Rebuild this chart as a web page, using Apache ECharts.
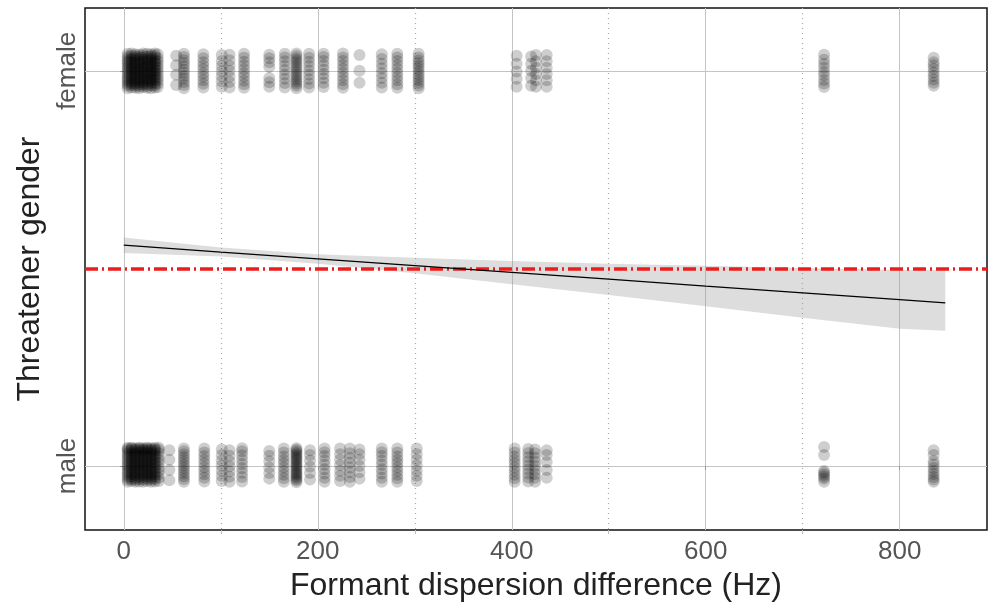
<!DOCTYPE html>
<html>
<head>
<meta charset="utf-8">
<script src="https://cdn.jsdelivr.net/npm/echarts@6/dist/echarts.min.js"></script>
<style>
  html, body { margin: 0; padding: 0; background: #fff; }
  #chart { width: 988px; height: 604px; }
</style>
</head>
<body>
<div id="chart"></div>
<script>
// Axis ticks and labels
const xMajorTicks = [0, 200, 400, 600, 800];
const xMinorTicks = [100, 300, 500, 700];
const yTickValues = [0, 1];
const yTickLabels = { 0: 'male', 1: 'female' };

// Observed formant dispersion differences (Hz) per threatener gender;
// each column lists the vertical jitter offsets of its trials around the 0/1 level
const femaleX = [4, 8, 12, 16, 20, 24, 28, 32, 35, 54, 62, 82, 101, 109, 124,
  150, 166, 178, 191, 206, 226, 243, 266, 282, 304, 405, 420, 425, 436, 722, 835];
const femaleJitter = [
  [-0.044, -0.038, -0.033, -0.027, -0.021, -0.016, -0.010, -0.004, 0.002, 0.007, 0.013, 0.019, 0.024, 0.030, 0.036, 0.043],
  [-0.042, -0.036, -0.031, -0.025, -0.019, -0.013, -0.008, -0.002, 0.004, 0.009, 0.015, 0.021, 0.027, 0.032, 0.038, 0.044],
  [-0.043, -0.037, -0.032, -0.026, -0.020, -0.015, -0.009, -0.003, 0.003, 0.008, 0.014, 0.020, 0.026, 0.031, 0.037, 0.042],
  [-0.044, -0.039, -0.034, -0.028, -0.022, -0.017, -0.011, -0.005, 0.001, 0.006, 0.012, 0.018, 0.023, 0.029, 0.035, 0.041],
  [-0.041, -0.035, -0.030, -0.024, -0.018, -0.012, -0.007, -0.001, 0.005, 0.010, 0.016, 0.022, 0.028, 0.033, 0.039, 0.044],
  [-0.043, -0.038, -0.032, -0.026, -0.021, -0.015, -0.009, -0.004, 0.002, 0.008, 0.013, 0.019, 0.025, 0.030, 0.036, 0.043],
  [-0.044, -0.037, -0.031, -0.025, -0.020, -0.014, -0.008, -0.003, 0.003, 0.009, 0.014, 0.020, 0.026, 0.031, 0.037, 0.042],
  [-0.042, -0.036, -0.030, -0.024, -0.018, -0.013, -0.007, -0.001, 0.004, 0.010, 0.016, 0.022, 0.027, 0.033, 0.039, 0.044],
  [-0.041, -0.032, -0.024, -0.016, -0.008, 0.000, 0.008, 0.016, 0.024, 0.032, 0.042],
  [-0.036, -0.010, 0.014, 0.038],
  [-0.044, -0.036, -0.028, -0.020, -0.013, -0.005, 0.003, 0.011, 0.019, 0.027, 0.035, 0.043],
  [-0.042, -0.033, -0.024, -0.015, -0.006, 0.004, 0.013, 0.022, 0.032, 0.042],
  [-0.040, -0.027, -0.014, -0.001, 0.012, 0.025, 0.040],
  [-0.042, -0.028, -0.015, 0.000, 0.013, 0.027, 0.041],
  [-0.043, -0.034, -0.025, -0.015, -0.006, 0.004, 0.014, 0.023, 0.033, 0.043],
  [-0.040, -0.029, -0.018, 0.010, 0.022, 0.032, 0.041],
  [-0.042, -0.031, -0.020, -0.009, 0.002, 0.013, 0.024, 0.034, 0.043],
  [-0.044, -0.038, -0.032, -0.027, -0.021, -0.015, -0.009, -0.003, 0.003, 0.009, 0.015, 0.021, 0.027, 0.032, 0.038, 0.044],
  [-0.042, -0.032, -0.021, -0.010, 0.001, 0.012, 0.023, 0.033, 0.043],
  [-0.041, -0.030, -0.019, -0.008, 0.003, 0.014, 0.025, 0.035, 0.043],
  [-0.043, -0.034, -0.024, -0.015, -0.005, 0.005, 0.015, 0.025, 0.034, 0.044],
  [-0.030, 0.000, 0.040],
  [-0.042, -0.030, -0.018, -0.006, 0.006, 0.018, 0.030, 0.042],
  [-0.043, -0.034, -0.024, -0.015, -0.005, 0.005, 0.015, 0.025, 0.034, 0.043],
  [-0.044, -0.037, -0.030, -0.023, -0.016, -0.009, -0.002, 0.005, 0.012, 0.019, 0.026, 0.034, 0.043],
  [-0.040, -0.020, -0.002, 0.018, 0.038],
  [-0.038, -0.018, 0.000, 0.018, 0.036],
  [-0.040, -0.024, -0.008, 0.008, 0.024, 0.040],
  [-0.040, -0.024, -0.008, 0.008, 0.024, 0.040],
  [-0.041, -0.032, -0.023, -0.012, -0.003, 0.008, 0.018, 0.028, 0.041],
  [-0.038, -0.030, -0.022, -0.013, -0.004, 0.005, 0.014, 0.022, 0.033]
];

const maleX = [4, 8, 12, 16, 20, 24, 28, 32, 36, 47, 62, 83, 101, 109, 122,
  150, 165, 178, 192, 207, 223, 233, 243, 266, 282, 302, 403, 417, 424, 436, 722, 835];
const maleJitter = [
  [-0.040, -0.034, -0.028, -0.022, -0.016, -0.010, -0.004, 0.002, 0.008, 0.014, 0.020, 0.026, 0.032, 0.038, 0.043, 0.046],
  [-0.038, -0.033, -0.027, -0.021, -0.015, -0.009, -0.003, 0.003, 0.009, 0.015, 0.021, 0.027, 0.033, 0.039, 0.044, 0.046],
  [-0.040, -0.035, -0.029, -0.023, -0.017, -0.011, -0.005, 0.001, 0.007, 0.013, 0.019, 0.025, 0.031, 0.037, 0.042, 0.045],
  [-0.039, -0.033, -0.027, -0.020, -0.014, -0.008, -0.002, 0.004, 0.010, 0.016, 0.022, 0.028, 0.034, 0.040, 0.044, 0.046],
  [-0.040, -0.034, -0.028, -0.022, -0.016, -0.010, -0.004, 0.002, 0.008, 0.014, 0.020, 0.026, 0.032, 0.038, 0.042, 0.045],
  [-0.038, -0.032, -0.026, -0.020, -0.014, -0.008, -0.002, 0.004, 0.010, 0.016, 0.022, 0.028, 0.034, 0.040, 0.044, 0.046],
  [-0.040, -0.034, -0.029, -0.023, -0.017, -0.011, -0.005, 0.001, 0.007, 0.013, 0.019, 0.025, 0.031, 0.037, 0.042, 0.045],
  [-0.039, -0.033, -0.027, -0.021, -0.015, -0.009, -0.003, 0.003, 0.009, 0.015, 0.021, 0.027, 0.033, 0.039, 0.043, 0.046],
  [-0.038, -0.030, -0.021, -0.012, -0.003, 0.006, 0.015, 0.024, 0.033, 0.041, 0.046],
  [-0.036, -0.010, 0.016, 0.040],
  [-0.040, -0.033, -0.026, -0.019, -0.012, -0.005, 0.002, 0.009, 0.016, 0.023, 0.030, 0.037, 0.044],
  [-0.039, -0.030, -0.021, -0.012, -0.003, 0.007, 0.016, 0.025, 0.034, 0.044],
  [-0.038, -0.025, -0.012, 0.001, 0.014, 0.028, 0.042],
  [-0.040, -0.027, -0.014, -0.001, 0.012, 0.026, 0.040],
  [-0.039, -0.028, -0.017, -0.006, 0.005, 0.016, 0.027, 0.037, 0.045],
  [-0.032, -0.018, -0.004, 0.012, 0.026, 0.038],
  [-0.040, -0.031, -0.022, -0.013, -0.004, 0.006, 0.015, 0.024, 0.034, 0.044],
  [-0.041, -0.037, -0.033, -0.029, -0.025, -0.021, -0.017, -0.013, -0.008, -0.004, 0.000, 0.004, 0.008, 0.013, 0.017, 0.021, 0.025, 0.029, 0.033, 0.037, 0.041, 0.045],
  [-0.034, -0.018, -0.002, 0.014, 0.028, 0.040],
  [-0.040, -0.030, -0.019, -0.008, 0.003, 0.014, 0.025, 0.035, 0.044],
  [-0.038, -0.025, -0.012, 0.002, 0.016, 0.030, 0.044],
  [-0.040, -0.028, -0.016, -0.004, 0.008, 0.020, 0.032, 0.044],
  [-0.032, -0.016, 0.000, 0.016, 0.030, 0.042],
  [-0.040, -0.030, -0.019, -0.008, 0.003, 0.014, 0.025, 0.035, 0.044],
  [-0.040, -0.031, -0.022, -0.013, -0.004, 0.006, 0.015, 0.024, 0.034, 0.044],
  [-0.038, -0.025, -0.012, 0.002, 0.016, 0.030, 0.044],
  [-0.040, -0.031, -0.022, -0.013, -0.004, 0.006, 0.015, 0.024, 0.034, 0.044],
  [-0.039, -0.029, -0.019, -0.009, 0.001, 0.012, 0.022, 0.033, 0.043],
  [-0.040, -0.030, -0.020, -0.010, 0.000, 0.011, 0.021, 0.032, 0.042],
  [-0.030, -0.010, 0.010, 0.028, 0.040],
  [-0.040, -0.032, -0.027, -0.022, -0.017, -0.013, 0.028, 0.048],
  [-0.040, -0.034, -0.028, -0.020, -0.013, -0.005, 0.004, 0.012, 0.028, 0.040]
];

// Fitted linear trend with its confidence band
const fitX = [0, 100, 200, 300, 400, 500, 600, 700, 800, 847];
const fitY = [0.559, 0.541, 0.524, 0.507, 0.490, 0.473, 0.455, 0.438, 0.421, 0.413];
const bandLower = [0.539, 0.530, 0.512, 0.488, 0.460, 0.433, 0.404, 0.375, 0.347, 0.342];
const bandUpper = [0.578, 0.553, 0.536, 0.527, 0.519, 0.512, 0.507, 0.501, 0.496, 0.496];

// Chance level
const chanceLevel = 0.5;

function toPoints(xs, jitter, level) {
  const pts = [];
  xs.forEach((x, i) => jitter[i].forEach(j => pts.push([x, level + j])));
  return pts;
}

const chart = echarts.init(document.getElementById('chart'), null, { renderer: 'canvas' });

const FONT = 'Liberation Sans, Arial, sans-serif';
const POINT_COLOR = 'rgba(0,0,0,0.24)';

chart.setOption({
  animation: false,
  backgroundColor: '#fff',
  grid: {
    left: 85, right: 1, top: 8, bottom: 74,
    outerBoundsMode: 'none', containLabel: false,
    show: true, borderColor: '#111', borderWidth: 1.5, backgroundColor: 'transparent'
  },
  xAxis: [
    {
      type: 'value', min: -40, max: 890,
      name: 'Formant dispersion difference (Hz)',
      nameLocation: 'middle', nameGap: 38,
      nameTextStyle: { fontFamily: FONT, fontSize: 32, color: '#222' },
      axisLine: { show: false },
      axisTick: { show: true, length: 4, lineStyle: { color: '#999' }, customValues: xMajorTicks },
      axisLabel: { fontFamily: FONT, fontSize: 26, color: '#555', margin: 9, customValues: xMajorTicks },
      splitLine: { show: true, lineStyle: { color: '#c4c4c4', width: 1 } }
    },
    {
      // minor gridlines, dotted
      type: 'value', min: -40, max: 890, position: 'bottom',
      axisLine: { show: false },
      axisTick: { show: true, length: 4, lineStyle: { color: '#bbb' }, customValues: xMinorTicks },
      axisLabel: { show: false },
      splitLine: { show: true, lineStyle: { color: '#aaa', type: [1, 4], width: 1.2 } }
    }
  ],
  yAxis: {
    type: 'value', min: -0.162, max: 1.159,
    name: 'Threatener gender',
    nameLocation: 'middle', nameGap: 39,
    nameTextStyle: { fontFamily: FONT, fontSize: 32, color: '#222' },
    axisLine: { show: false },
    axisTick: { show: true, length: 4, lineStyle: { color: '#999' }, customValues: yTickValues },
    axisLabel: {
      fontFamily: FONT, fontSize: 26, color: '#555', margin: 4, rotate: 90,
      customValues: yTickValues,
      formatter: v => yTickLabels[Math.round(v)] || ''
    },
    splitLine: { show: true, lineStyle: { color: '#c4c4c4', width: 1 } }
  },
  series: [
    {
      type: 'scatter', name: 'female', symbolSize: 12, large: false,
      itemStyle: { color: POINT_COLOR },
      data: toPoints(femaleX, femaleJitter, 1)
    },
    {
      type: 'scatter', name: 'male', symbolSize: 12, large: false,
      itemStyle: { color: POINT_COLOR },
      data: toPoints(maleX, maleJitter, 0)
    },
    {
      // confidence band around the fitted trend
      type: 'custom', silent: true, z: 3,
      data: [[fitX[0], fitY[0]]],
      renderItem: (params, api) => {
        const upper = fitX.map((x, i) => api.coord([x, bandUpper[i]]));
        const lower = fitX.map((x, i) => api.coord([x, bandLower[i]])).reverse();
        return {
          type: 'polygon',
          shape: { points: upper.concat(lower) },
          style: { fill: 'rgba(150,150,150,0.32)' }
        };
      }
    },
    {
      type: 'line', data: fitX.map((x, i) => [x, fitY[i]]), symbol: 'none',
      lineStyle: { color: '#000', width: 1.3 }, silent: true, z: 5,
      markLine: {
        silent: true, symbol: 'none', label: { show: false },
        lineStyle: { color: '#ee1c1c', type: [13, 4, 2, 4], width: 3.5 },
        data: [{ yAxis: chanceLevel }]
      }
    }
  ]
});
</script>
</body>
</html>
